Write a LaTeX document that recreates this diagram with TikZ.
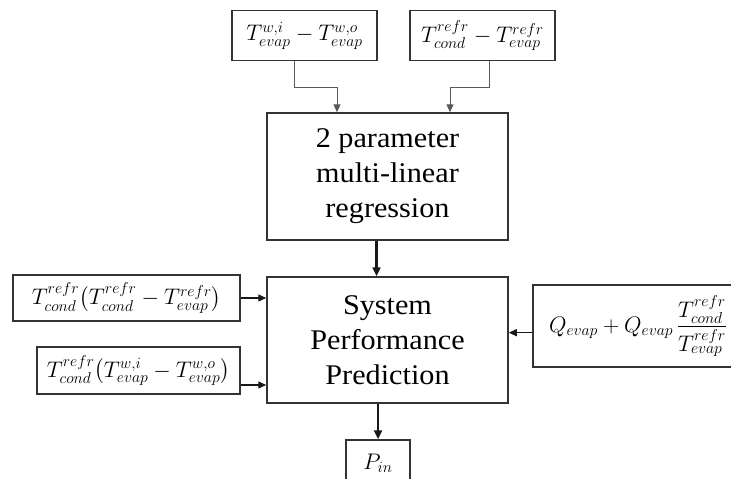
\RequirePackage{fix-cm}
\documentclass[tikz,border=0pt]{standalone}
\usepackage{amsmath}
\usepackage{fontspec}
\setmainfont{Liberation Serif}[FakeStretch=1.06]
\usetikzlibrary{arrows.meta,calc}

\begin{document}
\begin{tikzpicture}[x=1pt,y=-1pt,
  blk/.style={draw=black!80, line width=1.5pt, inner sep=0pt, align=center},
  eqn/.style={blk, font=\fontsize{22.5}{27}\selectfont},
  title/.style={blk, font=\fontsize{28.5}{35}\selectfont},
  feed/.style={draw=black!65, line width=1pt, -{Triangle[length=8pt,width=7pt]}},
  side/.style={draw=black!90, line width=1.3pt, -{Triangle[length=8pt,width=7pt]}},
  main/.style={draw=black!90, line width=2.4pt, -{Triangle[length=9pt,width=8pt]}}]
\clip (0,0) rectangle (731,479);
\fill[white] (0,0) rectangle (731,479);

% inputs of the regression
\node[eqn, minimum width=145pt, minimum height=50pt] (tl) at (304.5,35.7)
  {$T^{w,i}_{evap}-T^{w,o}_{evap}$};
\node[eqn, minimum width=145pt, minimum height=50pt] (tr) at (482.5,35.7)
  {$T^{refr}_{cond}-T^{refr}_{evap}$};

% regression and prediction blocks
\node[title, minimum width=241pt, minimum height=127pt] (mid) at (387.5,176.5)
  {2 parameter\\multi-linear\\regression};
\node[title, minimum width=241pt, minimum height=126pt] (spp) at (387.5,340)
  {System\\Performance\\Prediction};

% side inputs
\node[eqn, minimum width=227pt, minimum height=46pt] (l1) at (126.5,298)
  {$T^{refr}_{cond}\bigl(T^{refr}_{cond}-T^{refr}_{evap}\bigr)$};
\node[eqn, minimum width=203pt, minimum height=47pt] (l2) at (138.3,370.5)
  {$T^{refr}_{cond}\bigl(T^{w,i}_{evap}-T^{w,o}_{evap}\bigr)$};
\node[eqn, minimum width=210pt, minimum height=82pt] (rb) at (638,326)
  {$Q_{evap}+Q_{evap}\,\dfrac{T^{refr}_{cond}}{T^{refr}_{evap}}$};

% output
\node[eqn, minimum width=64pt, minimum height=46pt] (pin) at (378,463)
  {$P_{in}$};

% connectors
\draw[feed] ([xshift=-10.5pt]tl.south) -- ++(0,26.3) -| ([xshift=-50.5pt]mid.north);
\draw[feed] ([xshift=7pt]tr.south) -- ++(0,26.3) -| ([xshift=62.5pt]mid.north);
\draw[main] ([xshift=-11pt]mid.south) -- ([xshift=-11pt]spp.north);
\draw[side] (l1.east) -- (l1.east -| spp.west);
\draw[side] ([yshift=-14.5pt]l2.east) -- ([yshift=-14.5pt]l2.east -| spp.west);
\draw[side] ([yshift=-6.7pt]rb.west) -- ([yshift=-6.7pt]rb.west -| spp.east);
\draw[main] (spp.south -| pin.north) -- (pin.north);
\end{tikzpicture}
\end{document}
